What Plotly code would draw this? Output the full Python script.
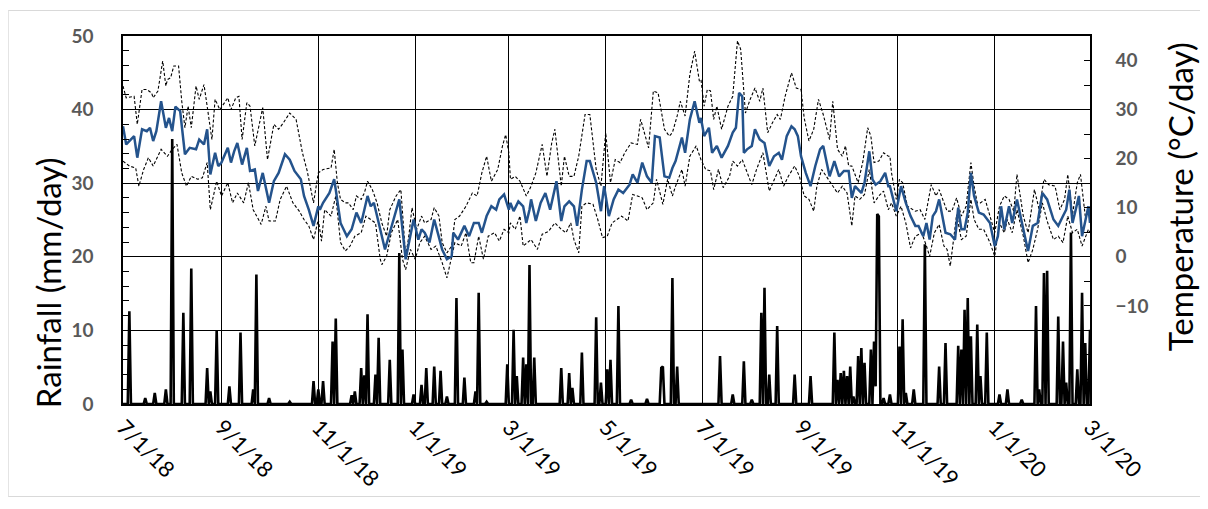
import pandas as pd
import plotly.graph_objects as go

START = "2018-07-01"
END = "2020-03-01"

# x-axis ticks
tick_dates = ["2018-07-01", "2018-09-01", "2018-11-01", "2019-01-01", "2019-03-01", "2019-05-01",
              "2019-07-01", "2019-09-01", "2019-11-01", "2020-01-01", "2020-03-01"]
tick_labels = ["7/1/18", "9/1/18", "11/1/18", "1/1/19", "3/1/19", "5/1/19",
               "7/1/19", "9/1/19", "11/1/19", "1/1/20", "3/1/20"]

# Daily mean temperature (°C), day offset from START
mean_days = [0, 2, 7, 9, 12, 15, 17, 19, 21, 24, 27, 29, 31, 33, 36, 39, 42, 46, 48, 51, 53, 55, 58, 60, 62, 66, 68, 70, 72, 75,
             78, 80, 83, 85, 88, 92, 95, 98, 102, 105, 108, 112, 114, 117, 120, 123, 124, 126, 130, 133, 134, 137, 141, 144, 147, 150,
             152, 154, 156, 158, 160, 162, 165, 168, 172, 174, 178, 181, 183, 186, 188, 190, 193, 196, 199, 201, 204, 207, 208, 211, 215,
             218, 221, 224, 226, 229, 232, 235, 237, 240, 243, 244, 246, 249, 252, 254, 256, 257, 260, 263, 266, 269, 273, 276, 278, 281,
             284, 286, 289, 292, 294, 298, 301, 303, 306, 309, 312, 315, 319, 321, 324, 327, 330, 333, 335, 338, 341, 344, 346, 348, 352,
             354, 357, 360, 363, 364, 366, 369, 371, 374, 377, 381, 384, 386, 388, 390, 391, 393, 396, 398, 401, 404, 407, 410, 413, 415,
             418, 421, 423, 425, 427, 430, 433, 436, 439, 441, 445, 448, 451, 454, 457, 459, 461, 465, 467, 470, 472, 474, 477, 480, 482,
             483, 487, 490, 493, 496, 499, 501, 504, 506, 508, 510, 512, 514, 516, 518, 521, 524, 526, 528, 530, 532, 534, 536, 539, 542,
             546, 549, 551, 553, 555, 558, 560, 563, 567, 570, 573, 576, 579, 582, 586, 589, 592, 594, 596, 598, 600, 602, 604, 608, 609]
mean_temp = [26.6, 22.9, 24.6, 20.2, 26.0, 25.6, 26.3, 23.6, 25.6, 31.7, 26.3, 28.3, 25.6, 30.6, 29.7, 20.9, 22.2, 21.9, 23.9, 22.9, 26.0, 16.8, 21.2, 18.5, 19.2, 22.2, 19.2, 21.5, 23.2, 18.8,
             22.2, 17.5, 17.8, 13.4, 17.1, 11.0, 15.4, 17.1, 20.9, 19.8, 17.5, 15.8, 12.4, 9.6, 6.3, 10.3, 9.6, 11.0, 13.0, 15.8, 13.7, 6.9, 4.2, 5.6, 9.0, 6.9,
             9.6, 12.4, 10.3, 11.0, 8.3, 5.6, 1.5, 4.9, 9.6, 11.7, -0.5, 4.2, 7.6, 3.5, 5.6, 4.9, 2.9, 7.6, 4.2, 1.5, -0.5, 0.1, 4.9, 3.5, 6.3,
             4.2, 6.9, 6.9, 4.9, 8.3, 10.3, 9.6, 11.7, 12.7, 9.6, 11.0, 9.3, 11.3, 10.3, 6.9, 9.6, 11.7, 7.3, 11.0, 13.0, 9.6, 15.4, 7.3, 10.3, 11.3,
             10.3, 6.3, 13.7, 19.5, 19.5, 15.1, 9.3, 14.4, 8.3, 11.7, 13.7, 13.0, 14.7, 16.8, 15.1, 19.2, 16.4, 15.1, 24.6, 24.3, 16.4, 16.1, 18.1, 19.5, 24.3,
             21.2, 28.0, 31.7, 27.3, 28.3, 24.6, 26.3, 21.2, 22.6, 20.2, 22.6, 25.3, 26.3, 33.4, 32.7, 21.2, 21.9, 22.6, 26.0, 23.9, 23.2, 18.5, 20.5, 21.2, 19.8,
             24.6, 26.6, 26.0, 24.6, 20.5, 17.1, 14.4, 18.5, 21.9, 22.6, 16.4, 19.5, 16.4, 17.5, 17.5, 12.0, 14.4, 13.0, 15.1, 21.5, 15.8, 14.7, 15.4, 17.1, 14.4,
             14.4, 9.3, 14.4, 11.0, 8.3, 6.3, 6.3, 4.2, 6.9, 3.5, 8.3, 9.3, 11.7, 8.3, 4.9, 4.6, 3.5, 10.0, 5.6, 5.6, 9.0, 17.1, 12.4, 9.0, 8.6,
             6.9, 2.2, 4.2, 10.3, 5.6, 10.3, 6.9, 11.7, 5.6, 1.2, 6.3, 6.9, 13.0, 11.7, 7.6, 6.3, 8.3, 9.6, 13.7, 6.9, 9.6, 12.4, 4.2, 10.3, 6.9]

# Daily maximum temperature (°C)
max_days = [0, 2, 7, 9, 12, 15, 18, 19, 22, 25, 27, 28, 30, 32, 35, 37, 39, 41, 43, 46, 48, 51, 53, 56, 58, 61, 66, 68, 71, 73,
            75, 78, 80, 83, 88, 91, 95, 98, 101, 105, 109, 113, 116, 120, 123, 126, 131, 133, 135, 137, 140, 142, 145, 147, 150, 152,
            154, 157, 160, 163, 166, 168, 172, 175, 178, 180, 182, 185, 188, 190, 194, 196, 199, 201, 204, 207, 209, 212, 216, 220, 223,
            226, 229, 232, 236, 239, 241, 243, 244, 247, 250, 254, 257, 260, 264, 267, 270, 272, 276, 278, 281, 284, 287, 291, 294, 298,
            301, 304, 307, 310, 313, 316, 320, 324, 326, 329, 331, 334, 337, 341, 344, 346, 349, 351, 354, 357, 360, 363, 364, 366, 368,
            370, 372, 374, 377, 381, 384, 387, 389, 392, 395, 398, 401, 403, 406, 409, 412, 414, 417, 421, 424, 427, 429, 432, 435, 438,
            441, 445, 447, 450, 453, 455, 457, 459, 463, 466, 469, 471, 473, 476, 479, 482, 483, 484, 487, 489, 491, 494, 497, 499, 502,
            505, 509, 512, 514, 517, 519, 522, 525, 528, 531, 534, 536, 538, 540, 543, 546, 549, 552, 555, 558, 561, 563, 567, 570, 574,
            577, 580, 583, 587, 590, 593, 595, 598, 601, 603, 606, 609]
max_temp = [34.8, 32.4, 32.7, 27.0, 34.1, 34.1, 33.4, 32.4, 33.8, 39.9, 34.8, 36.1, 36.5, 38.9, 38.9, 31.7, 26.3, 30.7, 26.3, 34.8, 32.1, 35.1, 30.7, 23.9, 32.1, 30.0, 32.4, 30.0, 32.4, 32.7,
            23.9, 31.4, 30.7, 22.6, 30.4, 19.8, 27.0, 26.0, 27.3, 29.3, 28.0, 21.2, 17.5, 11.0, 17.1, 17.8, 18.1, 21.9, 15.1, 11.7, 11.0, 11.0, 9.6, 12.4, 11.7, 13.0,
            15.4, 13.7, 11.0, 6.9, 4.2, 9.6, 12.4, 13.7, 0.1, 4.2, 10.0, 5.6, 8.3, 6.9, 7.6, 10.0, 8.3, 2.9, 0.8, 2.2, 7.6, 8.3, 10.3, 13.0, 12.4,
            17.1, 20.5, 15.4, 17.8, 22.6, 24.9, 21.2, 15.8, 16.4, 15.4, 12.4, 14.4, 17.1, 22.9, 16.4, 23.2, 26.0, 14.4, 20.5, 16.4, 16.4, 20.5, 29.0, 29.0, 17.8,
            14.4, 25.3, 15.1, 19.8, 19.2, 21.2, 23.2, 22.9, 28.0, 24.6, 22.2, 33.8, 33.4, 26.0, 24.6, 25.3, 28.7, 31.7, 28.7, 37.2, 41.9, 35.8, 36.1, 30.7, 34.1,
            33.8, 28.0, 30.7, 26.0, 30.7, 32.7, 44.0, 42.3, 29.3, 32.1, 34.4, 31.7, 34.4, 25.3, 27.3, 29.0, 28.0, 32.7, 37.5, 34.4, 34.1, 28.3, 23.6, 26.0, 32.1,
            29.0, 23.9, 31.7, 21.9, 20.5, 22.6, 18.5, 18.5, 15.1, 19.5, 26.3, 24.6, 19.2, 19.5, 21.2, 20.5, 20.5, 17.1, 11.7, 15.8, 15.1, 10.3, 9.6, 9.3, 9.6,
            7.6, 14.7, 12.4, 13.7, 11.0, 9.3, 9.3, 12.0, 8.3, 10.3, 19.2, 14.4, 11.0, 11.0, 11.7, 8.3, 4.9, 10.3, 12.4, 11.7, 9.3, 16.8, 8.3, 4.9, 13.7,
            9.6, 15.8, 14.7, 14.4, 9.6, 11.7, 16.8, 8.6, 15.1, 16.8, 8.3, 10.3]

# Daily minimum temperature (°C)
min_days = [0, 4, 8, 10, 13, 16, 19, 24, 28, 31, 34, 37, 40, 43, 47, 50, 53, 55, 59, 62, 66, 69, 72, 76, 79, 82, 87, 90, 92, 96,
            99, 103, 107, 111, 114, 117, 120, 123, 125, 127, 131, 134, 137, 140, 143, 146, 150, 153, 156, 159, 162, 163, 166, 169, 173,
            176, 178, 181, 184, 187, 190, 194, 197, 201, 204, 206, 209, 213, 216, 219, 221, 224, 227, 230, 234, 237, 240, 243, 244, 247,
            250, 252, 257, 261, 264, 268, 272, 276, 279, 282, 284, 287, 289, 292, 296, 299, 302, 305, 308, 311, 314, 318, 321, 324, 327,
            330, 334, 336, 340, 343, 346, 348, 352, 354, 357, 361, 363, 364, 367, 370, 372, 375, 378, 382, 384, 387, 390, 393, 396, 399,
            403, 407, 410, 413, 416, 419, 423, 426, 429, 432, 435, 437, 440, 444, 447, 450, 453, 456, 459, 461, 464, 467, 470, 473, 476,
            479, 482, 484, 487, 490, 493, 496, 499, 503, 506, 508, 511, 514, 517, 519, 521, 525, 528, 531, 534, 536, 539, 542, 546, 549,
            552, 555, 557, 560, 563, 567, 570, 573, 576, 579, 582, 586, 589, 592, 595, 598, 601, 604, 608, 609]
min_temp = [19.5, 18.5, 18.1, 14.4, 17.8, 20.2, 18.5, 21.9, 20.5, 21.9, 22.9, 17.1, 14.4, 16.4, 15.8, 16.1, 19.2, 9.6, 15.4, 12.4, 15.1, 11.0, 13.0, 11.0, 15.1, 9.6, 6.6, 10.3, 7.3, 7.3,
            11.7, 14.4, 11.0, 9.3, 7.6, 6.3, 3.5, 7.6, 3.2, 9.6, 8.3, 12.4, 2.9, 1.2, 2.2, 4.2, 4.9, 8.3, 7.6, 6.9, -0.5, -1.6, 0.1, 4.9, 7.6,
            -0.5, -2.6, 1.5, -0.5, 2.9, 4.2, 1.5, 2.2, -1.2, -4.3, -1.2, 2.9, 2.2, 4.9, -1.2, -1.2, 4.2, -0.5, 4.2, 4.9, 3.2, 5.6, 4.9, 6.9, 5.6,
            8.3, 2.2, 3.5, 1.5, 4.6, 5.2, 6.9, 5.6, 4.9, 6.9, 3.5, 0.8, 10.3, 11.0, 10.7, 7.6, 3.9, 4.2, 6.9, 7.6, 8.3, 7.3, 12.7, 12.4, 12.0,
            9.6, 11.0, 15.8, 10.7, 15.8, 12.4, 14.4, 17.8, 14.4, 20.5, 22.6, 20.5, 19.8, 17.8, 17.5, 13.7, 17.8, 14.1, 16.4, 19.5, 18.5, 19.8, 17.1, 14.7, 17.8,
            21.2, 13.4, 15.8, 17.8, 14.4, 16.4, 18.5, 16.4, 12.4, 11.7, 9.3, 14.4, 17.8, 15.8, 14.4, 13.0, 14.4, 13.0, 6.3, 12.4, 11.7, 12.7, 17.8, 11.0, 12.4,
            13.4, 9.6, 11.0, 8.3, 10.3, 6.9, 1.8, 4.2, 4.9, 2.2, 0.1, 4.9, 6.6, 2.2, 1.5, -1.9, 8.6, 3.5, 4.2, 11.7, 7.6, 5.6, 5.6, 2.9, 0.1,
            6.9, 4.9, 7.6, 4.9, 9.6, 4.2, -1.2, 1.5, 5.6, 11.0, 7.3, 3.5, 4.2, 2.9, 8.3, 4.9, 5.6, 2.2, 5.6, 4.9]

# Rainfall (mm/day): days with rain (all other days are 0)
rain_days = [4, 14, 20, 27, 31, 38, 43, 53, 55, 59, 67, 74, 82, 84, 92, 105, 120, 123, 126, 132, 134, 144, 146, 150, 152, 154,
             159, 161, 168, 174, 176, 183, 188, 191, 196, 200, 204, 210, 215, 222, 224, 229, 242, 246, 248, 252, 254, 256, 259, 276,
             281, 283, 289, 298, 301, 305, 307, 312, 320, 330, 339, 340, 346, 349, 376, 384, 391, 396, 402, 404, 407, 412, 423, 433,
             448, 450, 452, 454, 456, 458, 460, 463, 465, 467, 471, 473, 474, 475, 476, 479, 483, 489, 491, 493, 498, 505, 514, 518,
             526, 528, 530, 532, 534, 538, 540, 544, 552, 557, 566, 575, 577, 580, 582, 589, 592, 594, 597, 601, 604, 606, 609]
rain_mm = [12.6, 0.8, 1.5, 2.0, 36.0, 12.4, 18.4, 4.9, 1.7, 10.0, 2.4, 9.7, 2.0, 17.6, 0.8, 0.3, 3.1, 2.0, 3.1, 8.5, 11.6, 1.2, 1.7, 4.9, 3.9, 12.2,
           4.0, 9.0, 6.0, 20.5, 7.4, 1.3, 2.6, 4.9, 5.1, 4.5, 1.0, 14.4, 3.6, 1.7, 15.1, 0.3, 5.4, 10.1, 3.8, 6.3, 5.4, 18.9, 6.3, 4.9,
           4.2, 2.2, 7.0, 11.8, 2.9, 4.7, 6.0, 13.3, 0.6, 0.7, 4.9, 5.1, 17.1, 5.1, 6.5, 1.3, 5.8, 0.6, 12.4, 15.8, 4.0, 10.6, 4.0, 3.8,
           9.7, 3.3, 4.2, 4.5, 3.8, 5.1, 1.0, 6.5, 7.6, 5.6, 7.4, 8.5, 2.4, 25.8, 25.5, 0.8, 1.3, 7.8, 11.5, 1.5, 2.0, 21.7, 5.1, 8.3,
           7.9, 7.4, 12.8, 14.4, 9.2, 10.8, 3.8, 9.7, 1.3, 2.0, 0.6, 13.3, 2.0, 17.8, 18.1, 11.9, 8.5, 2.9, 23.3, 4.7, 15.1, 8.3, 10.1]

start = pd.Timestamp(START)
n_days = (pd.Timestamp(END) - start).days


def to_dates(days):
    return [start + pd.Timedelta(days=int(d)) for d in days]


rain_lookup = dict(zip(rain_days, rain_mm))
all_days = list(range(n_days + 1))
rain_series = [rain_lookup.get(d, 0.0) for d in all_days]

FONT = "Lato, 'Open Sans', sans-serif"
TICK_GRAY = "#595959"

fig = go.Figure()
fig.add_trace(go.Scatter(x=to_dates(all_days), y=rain_series, mode="lines", name="Rainfall",
                         line=dict(color="black", width=2.6), yaxis="y"))
fig.add_trace(go.Scatter(x=to_dates(max_days), y=max_temp, mode="lines", name="Max temp",
                         line=dict(color="black", width=1.1, dash="3px,2px"), yaxis="y2"))
fig.add_trace(go.Scatter(x=to_dates(min_days), y=min_temp, mode="lines", name="Min temp",
                         line=dict(color="black", width=1.1, dash="3px,2px"), yaxis="y2"))
fig.add_trace(go.Scatter(x=to_dates(mean_days), y=mean_temp, mode="lines", name="Mean temp",
                         line=dict(color="#24538C", width=2.5), yaxis="y2"))

fig.update_layout(
    width=1200, height=501, autosize=False,
    margin=dict(l=115, r=118, t=28, b=105),
    paper_bgcolor="white", plot_bgcolor="white",
    showlegend=False,
    font=dict(family=FONT, color="black"),
    xaxis=dict(
        type="date", range=[START, END],
        tickmode="array", tickvals=tick_dates, ticktext=tick_labels,
        tickangle=45, tickfont=dict(size=22, color="black", family=FONT),
        showgrid=True, gridcolor="black", gridwidth=1,
        showline=True, linecolor="black", linewidth=1.5, mirror=True,
        ticks="", zeroline=False,
    ),
    yaxis=dict(
        range=[0, 50], tickmode="linear", tick0=0, dtick=10,
        showgrid=True, gridcolor="black", gridwidth=1.2, zeroline=False,
        showline=True, linecolor="black", linewidth=1.5,
        ticks="inside", ticklen=6, tickcolor="black",
        minor=dict(tickmode="linear", tick0=0, dtick=2, ticks="inside", ticklen=6, tickcolor="black", showgrid=False),
        tickfont=dict(size=19, color=TICK_GRAY, family=FONT, weight="bold"),
        ticklabelstandoff=24,
    ),
    yaxis2=dict(
        overlaying="y", side="right", range=[-30, 45],
        tickmode="array", tickvals=[-10, 0, 10, 20, 30, 40],
        showgrid=False, zeroline=False,
        showline=True, linecolor="black", linewidth=1.5,
        ticks="inside", ticklen=6, tickcolor="black",
        minor=dict(tickmode="linear", tick0=0, dtick=5, ticks="inside", ticklen=6, tickcolor="black", showgrid=False),
        tickfont=dict(size=19, color=TICK_GRAY, family=FONT, weight="bold"),
        ticklabelstandoff=20,
    ),
    annotations=[
        dict(text="Rainfall (mm/day)", xref="paper", yref="paper", x=-0.078, y=0.330,
             textangle=-90, showarrow=False, xanchor="center", yanchor="middle",
             font=dict(size=33, color="black", family=FONT)),
        dict(text="Temperature (°C/day)", xref="paper", yref="paper", x=1.0938, y=0.564,
             textangle=-90, showarrow=False, xanchor="center", yanchor="middle",
             font=dict(size=33, color="black", family=FONT)),
    ],
    shapes=[
        dict(type="rect", xref="paper", yref="paper", x0=-0.1187, x1=1.1223, y0=-0.2514, y1=1.0693,
             line=dict(color="#D9D9D9", width=1), fillcolor="rgba(0,0,0,0)", layer="below"),
    ],
)

fig.write_html("out.html")
